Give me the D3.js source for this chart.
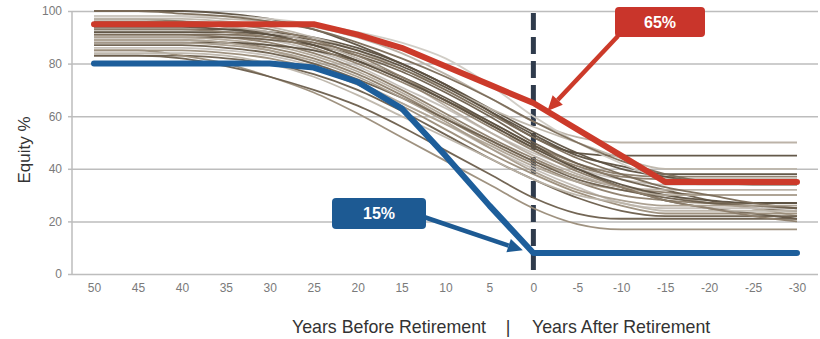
<!DOCTYPE html>
<html>
<head>
<meta charset="utf-8">
<script src="https://cdn.jsdelivr.net/npm/d3@7/dist/d3.min.js"></script>
<style>
  html, body { margin: 0; padding: 0; background: #ffffff; }
  svg { display: block; font-family: "Liberation Sans", Arial, sans-serif; }
</style>
</head>
<body>
<svg id="chart" width="820" height="339"></svg>
<script>
// Years until retirement (positive) and after retirement (negative)
const years = [50, 45, 40, 35, 30, 25, 20, 15, 10, 5, 0, -5, -10, -15, -20, -25, -30];
const xTickLabels = ["50", "45", "40", "35", "30", "25", "20", "15", "10", "5", "0", "-5", "-10", "-15", "-20", "-25", "-30"];
const yTicks = [0, 20, 40, 60, 80, 100];

// Industry glide paths: equity % at each year in `years`
const glidePaths = [
  [100,100,100, 99, 97, 93, 87, 80, 72, 62, 52, 46, 45, 45, 45, 45, 45],
  [ 98, 98, 98, 97, 96, 94, 90, 84, 76, 67, 58, 52, 50, 50, 50, 50, 50],
  [ 97, 97, 96, 94, 91, 87, 81, 74, 66, 58, 49, 42, 38, 37, 37, 37, 37],
  [ 93, 93, 93, 93, 92, 90, 86, 80, 72, 63, 54, 46, 40, 37, 35, 35, 35],
  [ 92, 92, 92, 91, 89, 85, 79, 71, 63, 54, 46, 40, 36, 34, 34, 34, 34],
  [ 91, 91, 91, 90, 88, 84, 78, 70, 61, 52, 44, 37, 33, 31, 30, 30, 30],
  [ 90, 90, 90, 90, 89, 87, 83, 77, 69, 60, 50, 42, 36, 32, 28, 25, 24],
  [ 90, 90, 90, 89, 87, 83, 77, 69, 60, 51, 43, 37, 33, 30, 27, 25, 22],
  [ 89, 89, 89, 88, 86, 82, 76, 68, 59, 50, 42, 35, 30, 28, 27, 27, 27],
  [ 88, 88, 88, 88, 87, 85, 81, 75, 67, 58, 49, 40, 33, 28, 25, 23, 21],
  [ 86, 86, 86, 85, 83, 79, 73, 65, 57, 48, 40, 33, 27, 25, 25, 25, 25],
  [ 85, 85, 85, 84, 82, 78, 72, 64, 55, 46, 38, 31, 26, 23, 23, 23, 23],
  [ 83, 83, 83, 82, 80, 76, 70, 62, 53, 44, 36, 29, 24, 22, 22, 22, 22],
  [ 97, 97, 97, 96, 94, 90, 85, 78, 71, 63, 56, 50, 44, 40, 40, 40, 40],
  [ 92, 92, 92, 92, 91, 89, 85, 79, 71, 62, 53, 45, 41, 38, 38, 38, 38],
  [ 85, 85, 83, 80, 75, 69, 61, 52, 43, 34, 25, 19, 17, 17, 17, 17, 17],
  [ 83, 83, 82, 79, 75, 70, 64, 56, 47, 38, 29, 23, 21, 21, 21, 21, 21],
  [ 95, 95, 95, 94, 92, 88, 82, 74, 64, 54, 45, 38, 33, 32, 32, 32, 32],
  [ 98, 98, 98, 98, 97, 95, 92, 88, 82, 72, 60, 50, 42, 36, 34, 34, 34],
  [ 96, 96, 96, 95, 93, 89, 83, 75, 66, 57, 48, 41, 37, 36, 36, 36, 36],
  [ 94, 94, 94, 93, 91, 87, 81, 74, 66, 57, 48, 40, 34, 30, 28, 27, 27],
  [ 89, 89, 89, 88, 85, 80, 73, 65, 57, 49, 41, 35, 32, 30, 30, 30, 30],
  [ 91, 91, 91, 91, 90, 88, 84, 78, 70, 61, 52, 44, 38, 33, 30, 27, 25],
  [ 87, 87, 87, 86, 84, 80, 74, 67, 59, 51, 43, 36, 32, 29, 27, 26, 25],
  [ 84, 84, 84, 83, 80, 75, 68, 60, 52, 44, 36, 30, 27, 24, 24, 24, 24],
  [100,100, 99, 98, 96, 93, 88, 82, 75, 67, 58, 50, 43, 38, 35, 34, 34],
  [ 93, 93, 93, 92, 90, 86, 80, 73, 65, 56, 47, 39, 33, 28, 25, 22, 20],
  [ 88, 88, 88, 87, 85, 81, 75, 67, 58, 48, 39, 32, 28, 26, 26, 26, 26]
];
const glideShades = ["#5c5040", "#b8afa3", "#8c7d6a", "#5c5040", "#c4beb6", "#8c7d6a",
                     "#6b5e4c", "#b0a597", "#8c7d6a", "#5c5040", "#c4beb6", "#9a8c79",
                     "#6b5e4c", "#bdb5aa", "#5c5040", "#9a8c79", "#6b5e4c", "#b8afa3",
                     "#cfcac3", "#8c7d6a", "#5c5040", "#b0a597", "#7a6c59", "#6b5e4c",
                     "#bdb5aa", "#7a6c59", "#8c7d6a", "#a89c8c"];

// Highlighted paths
const aggressiveYears  = [50, 25, 20, 15, 10, 5, 0, -5, -10, -15, -30];
const aggressiveValues = [95, 95, 91, 86, 79, 72, 65, 55, 45, 35, 35];
const conservativeYears  = [50, 30, 25, 20, 15, 10, 5, 0, -30];
const conservativeValues = [80, 80, 78.5, 73, 63, 45, 26, 8, 8];
const conservativeLabel = "15%";

const svg = d3.select("#chart");
const x = d3.scaleLinear().domain([50, -30]).range([94, 797]);
const y = d3.scaleLinear().domain([0, 100]).range([274, 11]);
const plotLeft = 72, plotRight = 818;

// Horizontal gridlines with value labels
const yAxis = d3.axisLeft(y)
  .tickValues(yTicks)
  .tickSize(-(plotRight - plotLeft))
  .tickPadding(10)
  .tickFormat(d3.format("d"));
const gy = svg.append("g").attr("transform", `translate(${plotLeft},0)`).call(yAxis);
gy.select(".domain").remove();
gy.selectAll(".tick line").attr("stroke", "#bdbdbd").attr("stroke-width", 1.5);
gy.selectAll(".tick text").attr("fill", "#7a7a7a").style("font-size", "12px");
gy.selectAll(".tick").append("line")
  .attr("x1", -4).attr("x2", 0).attr("stroke", "#bdbdbd").attr("stroke-width", 1.5);

svg.append("line")
  .attr("x1", plotLeft).attr("x2", plotLeft)
  .attr("y1", y(100)).attr("y2", y(0))
  .attr("stroke", "#bdbdbd").attr("stroke-width", 1.5);

// Year labels
const xAxis = d3.axisBottom(x)
  .tickValues(years)
  .tickSize(0)
  .tickPadding(9)
  .tickFormat((d, i) => xTickLabels[i]);
const gx = svg.append("g").attr("transform", `translate(0,${y(0)})`).call(xAxis);
gx.select(".domain").remove();
gx.selectAll(".tick text").attr("fill", "#7a7a7a").style("font-size", "12px");

// Retirement marker
svg.append("line")
  .attr("x1", x(0)).attr("x2", x(0))
  .attr("y1", 13).attr("y2", y(0))
  .attr("stroke", "#2f3b4c").attr("stroke-width", 5)
  .attr("stroke-dasharray", "17,7");

// Glide path bundle
const smooth = d3.line().x(d => x(d[0])).y(d => y(d[1])).curve(d3.curveMonotoneX);
svg.append("g").selectAll("path")
  .data(glidePaths)
  .join("path")
  .attr("d", vals => smooth(years.map((yr, i) => [yr, vals[i]])))
  .attr("fill", "none")
  .attr("stroke", (d, i) => glideShades[i % glideShades.length])
  .attr("stroke-width", 1.8)
  .attr("stroke-opacity", 0.95);

// Highlighted paths
const straight = d3.line().x(d => x(d[0])).y(d => y(d[1]));
svg.append("path")
  .datum(aggressiveYears.map((yr, i) => [yr, aggressiveValues[i]]))
  .attr("d", straight)
  .attr("fill", "none").attr("stroke", "#cc3a2a").attr("stroke-width", 6)
  .attr("stroke-linecap", "round").attr("stroke-linejoin", "round");
svg.append("path")
  .datum(conservativeYears.map((yr, i) => [yr, conservativeValues[i]]))
  .attr("d", straight)
  .attr("fill", "none").attr("stroke", "#1d5e9b").attr("stroke-width", 6)
  .attr("stroke-linecap", "round").attr("stroke-linejoin", "round");

// Callouts
function arrow(x1, y1, x2, y2, color) {
  const ang = Math.atan2(y2 - y1, x2 - x1);
  const len = 15, half = 7;
  const bx = x2 - len * Math.cos(ang), by = y2 - len * Math.sin(ang);
  svg.append("line")
    .attr("x1", x1).attr("y1", y1).attr("x2", bx).attr("y2", by)
    .attr("stroke", color).attr("stroke-width", 4.5);
  const px = -Math.sin(ang) * half, py = Math.cos(ang) * half;
  svg.append("path")
    .attr("d", `M${x2},${y2}L${bx + px},${by + py}L${bx - px},${by - py}Z`)
    .attr("fill", color);
}
function callout(bx, by, bw, bh, text, color) {
  svg.append("rect")
    .attr("x", bx).attr("y", by).attr("width", bw).attr("height", bh)
    .attr("rx", 4).attr("fill", color);
  svg.append("text")
    .attr("x", bx + bw / 2).attr("y", by + bh / 2)
    .attr("dy", "0.36em")
    .attr("text-anchor", "middle")
    .attr("fill", "#ffffff")
    .style("font-size", "16px").style("font-weight", "bold")
    .text(text);
}

const redAtRetirement = aggressiveValues[aggressiveYears.indexOf(0)];
const blueAtRetirement = conservativeValues[conservativeYears.indexOf(0)];
arrow(618, 36, x(-1.6), y(redAtRetirement - 3), "#cc3a2a");
callout(615, 7, 90, 30, `${redAtRetirement}%`, "#c9352b");
arrow(424, 217, x(1.2), y(blueAtRetirement + 1), "#1d5a93");
callout(332, 198, 94, 31, conservativeLabel, "#1d5a93");

// Axis titles
svg.append("text")
  .attr("transform", "translate(30,150) rotate(-90)")
  .attr("text-anchor", "middle")
  .attr("fill", "#333333")
  .style("font-size", "17px")
  .text("Equity %");

const titleY = 333;
svg.append("text")
  .attr("x", 486).attr("y", titleY).attr("text-anchor", "end")
  .attr("fill", "#333333").style("font-size", "17.8px")
  .text("Years Before Retirement");
svg.append("text")
  .attr("x", 508).attr("y", titleY).attr("text-anchor", "middle")
  .attr("fill", "#333333").style("font-size", "17.8px")
  .text("|");
svg.append("text")
  .attr("x", 532).attr("y", titleY).attr("text-anchor", "start")
  .attr("fill", "#333333").style("font-size", "17.8px")
  .text("Years After Retirement");
</script>
</body>
</html>
